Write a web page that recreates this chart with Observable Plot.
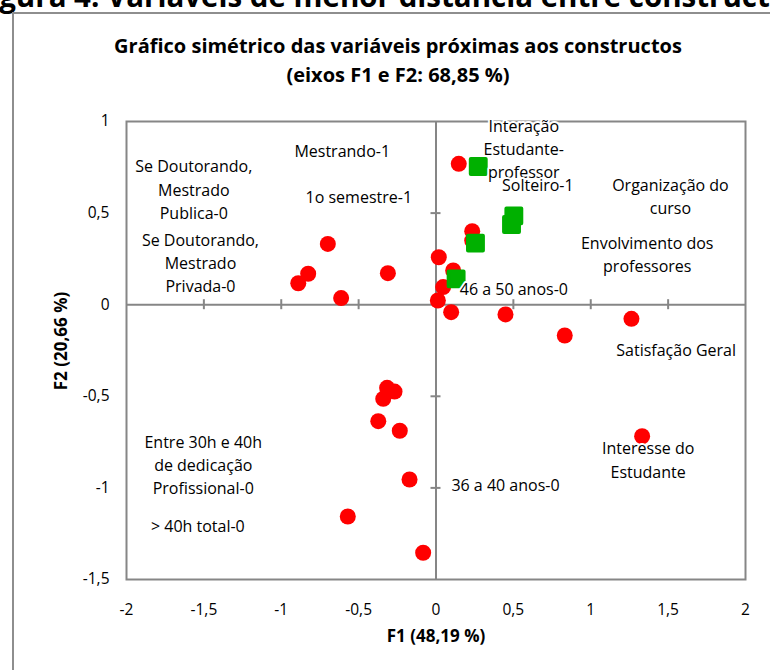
<!DOCTYPE html>
<html>
<head>
<meta charset="utf-8">
<script src="https://cdn.jsdelivr.net/npm/d3@7"></script>
<script src="https://cdn.jsdelivr.net/npm/@observablehq/plot@0.6"></script>
<style>
  html, body { margin: 0; padding: 0; background: #fff; }
  #root { position: relative; width: 770px; height: 670px; overflow: hidden; background: #fff; font-family: "Open Sans", sans-serif; color: #000; }
  #heading { position: absolute; left: -26px; top: -19px; font-size: 29.5px; font-weight: 700; line-height: 1; white-space: nowrap; }
  #frame { position: absolute; left: 12px; top: 12px; width: 820px; height: 720px; border: 2px solid #8e8e8e; box-sizing: border-box; }
  #chart { position: absolute; left: 0; top: 0; }
  .title { position: absolute; left: 0; width: 796px; text-align: center; font-size: 20px; font-weight: 700; white-space: nowrap; line-height: 1; }
  #xlabel { position: absolute; left: 336px; width: 200px; top: 627px; text-align: center; font-size: 17px; font-weight: 700; line-height: 1; }
  #ylabel { position: absolute; left: -40px; width: 200px; top: 333px; text-align: center; font-size: 17px; font-weight: 700; line-height: 1; transform: rotate(-90deg); transform-origin: 100px 8px; }
</style>
</head>
<body>
<div id="root">
  <div id="heading">Figura 4: Variáveis de menor distância entre constructos</div>
  <div id="frame"></div>
  <div id="chart"></div>
  <div class="title" style="top:36px">Gráfico simétrico das variáveis próximas aos constructos</div>
  <div class="title" style="top:65px">(eixos F1 e F2: 68,85 %)</div>
  <div id="xlabel">F1 (48,19 %)</div>
  <div id="ylabel">F2 (20,66 %)</div>
</div>
<script>
// Red points (F1, F2)
const redF1 = [-0.699, -0.826, -0.890, -0.613, -0.311, 0.018, 0.012, 0.147, 0.234, 0.234, 0.111, 0.046, 0.098, 0.449, 1.263, 0.832, 1.332, -0.316, -0.268, -0.341, -0.373, -0.234, -0.171, -0.570, -0.083];
const redF2 = [0.332, 0.169, 0.117, 0.036, 0.172, 0.259, 0.023, 0.769, 0.401, 0.350, 0.187, 0.096, -0.041, -0.053, -0.077, -0.168, -0.718, -0.454, -0.474, -0.514, -0.636, -0.688, -0.954, -1.156, -1.354];
// Green points (constructs)
const greenF1 = [0.273, 0.255, 0.503, 0.488, 0.130];
const greenF2 = [0.754, 0.336, 0.485, 0.438, 0.141];
// Labels
const labelText = [
  "Mestrando-1",
  "Se Doutorando,\nMestrado\nPublica-0",
  "1o semestre-1",
  "Se Doutorando,\nMestrado\nPrivada-0",
  "Interação\nEstudante-\nprofessor",
  "Solteiro-1",
  "Organização do\ncurso",
  "Envolvimento dos\nprofessores",
  "46 a 50 anos-0",
  "Satisfação Geral",
  "Interesse do\nEstudante",
  "36 a 40 anos-0",
  "Entre 30h e 40h\nde dedicação\nProfissional-0",
  "> 40h total-0"
];
const labelF1 = [-0.606, -1.565, -0.499, -1.522, 0.567, 0.658, 1.515, 1.365, 0.503, 1.552, 1.371, 0.449, -1.504, -1.539];
const labelF2 = [0.846, 0.636, 0.596, 0.237, 0.856, 0.660, 0.600, 0.281, 0.096, -0.241, -0.840, -0.978, -0.868, -1.201];
// Axis ticks
const xTicks = [-2, -1.5, -1, -0.5, 0, 0.5, 1, 1.5, 2];
const yTicks = [-1.5, -1, -0.5, 0, 0.5, 1];
const xCrossTicks = [-1.5, -1, -0.5, 0.5, 1, 1.5];
const yCrossTicks = [-1, -0.5, 0.5];

const red = redF1.map((x, i) => ({x, y: redF2[i]}));
const green = greenF1.map((x, i) => ({x, y: greenF2[i]}));
const labels = labelText.map((t, i) => ({t, x: labelF1[i], y: labelF2[i]}));
const fmt = d => String(d).replace(".", ",");
const gray = "#868686";

const chart = Plot.plot({
  width: 770,
  height: 670,
  marginLeft: 126,
  marginRight: 25,
  marginTop: 121,
  marginBottom: 91,
  style: {fontFamily: "'Open Sans', sans-serif", fontSize: "15.5px", color: "#000", background: "transparent"},
  x: {domain: [-2, 2], ticks: xTicks, tickFormat: fmt, tickSize: 0, tickPadding: 24, label: null},
  y: {domain: [-1.5, 1], ticks: yTicks, tickFormat: fmt, tickSize: 0, tickPadding: 17, label: null},
  marks: [
    Plot.ruleX([0], {stroke: gray, strokeWidth: 2}),
    Plot.ruleY([0], {stroke: gray, strokeWidth: 2}),
    Plot.ruleX(xCrossTicks, {x: d => d, y1: 0, y2: 0, insetTop: -5, insetBottom: -5, stroke: gray, strokeWidth: 2}),
    Plot.ruleY(yCrossTicks, {y: d => d, x1: 0, x2: 0, insetLeft: -5, insetRight: -5, stroke: gray, strokeWidth: 2}),
    Plot.frame({stroke: gray, strokeWidth: 2}),
    Plot.dot(red, {x: "x", y: "y", r: 8, fill: "#ff0000", stroke: null}),
    Plot.dot(green, {x: "x", y: "y", symbol: "square", r: 8.4, fill: "#00b000", stroke: "#00b000", strokeWidth: 4, strokeLinejoin: "round"}),
    Plot.text(labels, {x: "x", y: "y", text: "t", fill: "#000", lineHeight: 1.45, fontSize: 16, stroke: "white", strokeWidth: 4})
  ]
});
document.getElementById("chart").appendChild(chart);
</script>
</body>
</html>
